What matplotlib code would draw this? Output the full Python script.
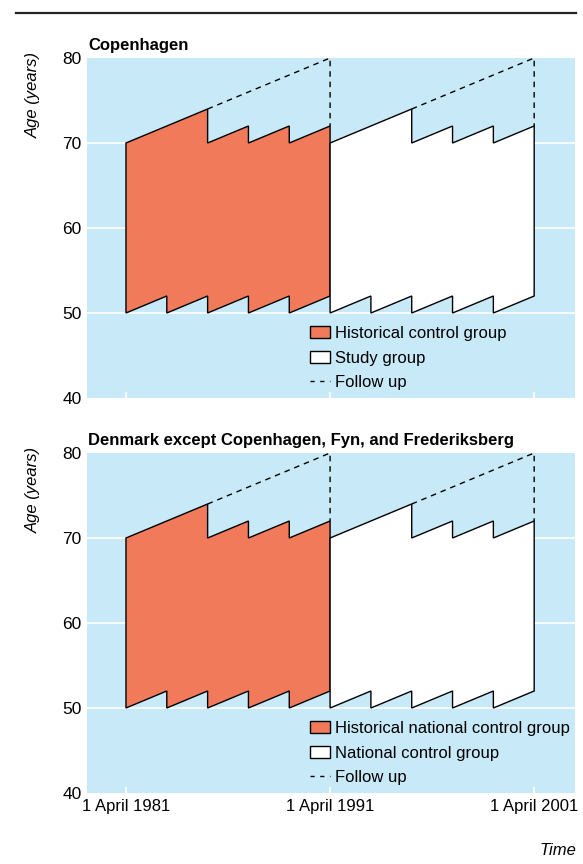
import matplotlib.pyplot as plt
from matplotlib.patches import Patch
from matplotlib.lines import Line2D

plt.rcParams['font.family'] = ['Liberation Sans Narrow', 'Liberation Sans', 'DejaVu Sans']

# Lexis diagram data (calendar year, age)
top_years = [0, 4, 4, 6, 6, 8, 8, 10]
top_ages = [70, 74, 70, 72, 70, 72, 70, 72]
bottom_years = [0, 2, 2, 4, 4, 6, 6, 8, 8, 10]
bottom_ages = [50, 52, 50, 52, 50, 52, 50, 52, 50, 52]
follow_years = [4, 10, 10]
follow_ages = [74, 80, 72]
period_starts = [1981, 1991]

panel_titles = ["Copenhagen", "Denmark except Copenhagen, Fyn, and Frederiksberg"]
legend_labels = [
    ["Historical control group", "Study group", "Follow up"],
    ["Historical national control group", "National control group", "Follow up"],
]
xticks = [1981, 1991, 2001]
xtick_labels = ["1 April 1981", "1 April 1991", "1 April 2001"]
yticks = [40, 50, 60, 70, 80]

bg = "#c8e9f8"
coral = "#f07a5a"
fills = [coral, "white"]

fig = plt.figure(figsize=(5.83, 8.64), dpi=100)
W, H = 583, 864

fig.add_artist(Line2D([16 / W, 576 / W], [1 - 12.5 / H, 1 - 12.5 / H], color="#222222", lw=1.6))

panel_tops = [58, 453]
for i, top in enumerate(panel_tops):
    ax = fig.add_axes([87 / W, 1 - (top + 340) / H, 488 / W, 340 / H])
    ax.set_facecolor(bg)
    ax.set_xlim(1979.09, 2003.0)
    ax.set_ylim(40, 80)
    for s in ax.spines.values():
        s.set_visible(False)
    for y in [50, 60, 70]:
        ax.axhline(y, color="white", lw=1.2, zorder=1)

    for start, fc in zip(period_starts, fills):
        xs = [start + t for t in top_years] + [start + t for t in bottom_years[::-1]]
        ys = top_ages + bottom_ages[::-1]
        ax.fill(xs, ys, facecolor=fc, edgecolor="black", lw=1, zorder=3)
        ax.plot([start + t for t in follow_years], follow_ages, color="black",
                lw=1, dashes=(4, 3.5), zorder=2)

    ax.set_yticks(yticks)
    ax.tick_params(axis="y", length=0, pad=4, labelsize=12.5)
    ax.set_xticks(xticks)
    ax.tick_params(axis="x", direction="in", length=4, width=1.2, color="white",
                   pad=4, labelsize=12)
    if i == 0:
        ax.set_xticklabels([])
    else:
        ax.set_xticklabels(xtick_labels)

    fig.text(88 / W, 1 - (top - 8) / H, panel_titles[i], fontsize=12,
             fontweight="bold", ha="left", va="baseline")
    fig.text(33 / W, 1 - (top - 6) / H, "Age (years)", fontsize=12, style="italic",
             rotation=90, ha="center", va="top")

    handles = [
        Patch(facecolor=coral, edgecolor="black", lw=1),
        Patch(facecolor="white", edgecolor="black", lw=1),
        Line2D([], [], color="black", lw=1, dashes=(3, 4)),
    ]
    ax.legend(handles, legend_labels[i], loc="upper left",
              bbox_to_anchor=(223 / 488, 1 - 268 / 340), frameon=False,
              fontsize=12, handlelength=1.2, handleheight=0.72, handletextpad=0.3,
              labelspacing=0.58, borderpad=0, borderaxespad=0)

fig.text(576 / W, 1 - 855 / H, "Time", fontsize=12, style="italic", ha="right",
         va="baseline")

fig.savefig("out.png", dpi=100)
